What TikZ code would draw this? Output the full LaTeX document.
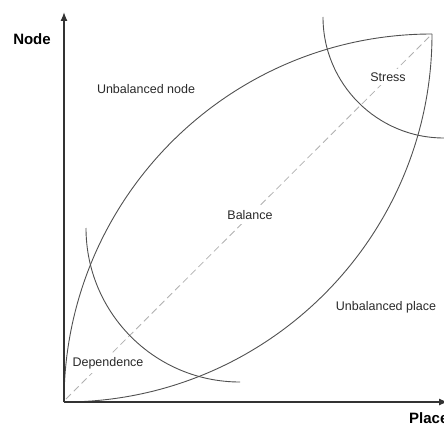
\documentclass[tikz,border=0pt]{standalone}
\usepackage{fontspec}
\setmainfont{Liberation Sans}
\usetikzlibrary{arrows.meta}
\definecolor{curvegray}{HTML}{505050}
\definecolor{dashgray}{HTML}{B0B0B0}
\definecolor{axisgray}{HTML}{333333}
\definecolor{textgray}{HTML}{2A2A2A}
\begin{document}
\begin{tikzpicture}[x=1pt,y=1pt,
  axisline/.style={draw=axisgray,line width=1.3pt,-{Latex[length=9pt,width=7pt]}},
  curve/.style={draw=curvegray,line width=0.9pt},
  diag/.style={draw=dashgray,line width=0.8pt,dash pattern=on 7pt off 4pt},
  lbl/.style={text=textgray,fill=white,font=\fontsize{12.5}{14}\selectfont,inner xsep=1pt,inner ysep=4pt},
  axlbl/.style={text=black,font=\fontsize{15}{17}\selectfont\bfseries,inner sep=0pt}]
\useasboundingbox (0,0) rectangle (444,424);
\clip (0,0) rectangle (444,424);
\coordinate (O) at (64,22);
\coordinate (C) at (432,390);
\coordinate (ytip) at (64,412);
\coordinate (xtip) at (448,22);
% dashed diagonal
\draw[diag] (66,25) -- (C);
% lens
\draw[curve] (O) arc[start angle=180,end angle=90,radius=368];
\draw[curve] (O) arc[start angle=270,end angle=360,radius=368];
% dependence arc
\draw[curve] (86,196) arc[start angle=180,end angle=270,radius=154];
% stress arc
\draw[curve] (323,407) arc[start angle=180,end angle=270,radius=121];
% axes
\draw[axisline] (O) -- (ytip);
\draw[axisline] (O) -- (xtip);
% labels
\node[axlbl] (node) at (32,385) {Node};
\node[axlbl,anchor=west] (place) at (409,6) {Place};
\node[lbl] (unode) at (146,335) {Unbalanced node};
\node[lbl] (stress) at (388,347) {Stress};
\node[lbl] (balance) at (250,209) {Balance};
\node[lbl] (uplace) at (386,117) {Unbalanced place};
\node[lbl] (dep) at (108,61) {Dependence};
\end{tikzpicture}
\end{document}
